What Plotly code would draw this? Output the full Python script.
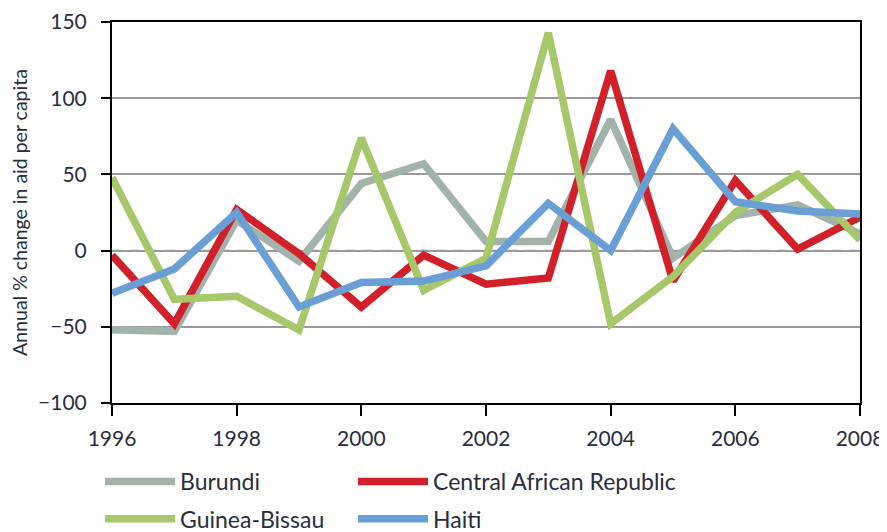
import plotly.graph_objects as go

years = list(range(1996, 2009))
burundi = [-52, -53, 20, -7, 44, 57, 6, 6, 86, -5, 23, 30, 11]
car = [-3, -48, 27, -2, -37, -3, -22, -18, 118, -20, 46, 1, 22]
guinea_bissau = [48, -32, -30, -52, 74, -26, -5, 143, -48, -17, 25, 50, 7]
haiti = [-28, -12, 25, -37, -21, -20, -10, 31, 0, 80, 32, 26, 24]

series = [
    ("Burundi", burundi, "#a2b3aa", "legend"),
    ("Central African Republic", car, "#d2202a", "legend2"),
    ("Guinea-Bissau", guinea_bissau, "#a7c76b", "legend3"),
    ("Haiti", haiti, "#6a9fd6", "legend4"),
]

fig = go.Figure()
for name, vals, col, lg in series:
    fig.add_trace(go.Scatter(x=years, y=vals, name=name, mode="lines", legend=lg,
                             line=dict(color=col, width=7.5)))

fig.add_hline(y=0, line=dict(color="#999999", width=1.5, dash="dash"), layer="below")

font = "Lato"
txt = "#2a2d3e"


def leg(x, y):
    return dict(orientation="h", x=x, y=y, xref="container", yref="container",
                xanchor="left", yanchor="top", itemwidth=70,
                font=dict(family=font, size=23, color=txt),
                bgcolor="rgba(0,0,0,0)")


# page body has an 8px default margin, so the figure is sized to fit the window
fig.update_layout(
    width=879, height=524,
    margin=dict(l=104, r=27, t=14, b=129),
    paper_bgcolor="white", plot_bgcolor="white",
    font=dict(family=font, size=21, color=txt),
    showlegend=True,
    legend=leg(0.1047, 0.1374),
    legend2=leg(0.3925, 0.1374),
    legend3=leg(0.1047, 0.066),
    legend4=leg(0.3925, 0.066),
    xaxis=dict(range=[1996, 2008], dtick=2, tick0=1996, showgrid=False,
               showline=True, linecolor="black", linewidth=2, mirror=True,
               ticks="outside", ticklen=11, tickwidth=2, tickcolor="black",
               ticklabelstandoff=5,
               zeroline=False, tickfont=dict(size=21, color=txt), automargin=False),
    yaxis=dict(range=[-100, 150], dtick=50, tick0=-100, showgrid=True,
               gridcolor="#9a9a9a", gridwidth=1.5,
               showline=True, linecolor="black", linewidth=2, mirror=True,
               ticks="outside", ticklen=9, tickwidth=2, tickcolor="black",
               ticklabelstandoff=10,
               zeroline=False, tickfont=dict(size=21, color=txt), automargin=False,
               title=dict(text="Annual % change in aid per capita",
                          font=dict(size=19.5, color=txt), standoff=5)),
)

fig.write_html("out.html")
